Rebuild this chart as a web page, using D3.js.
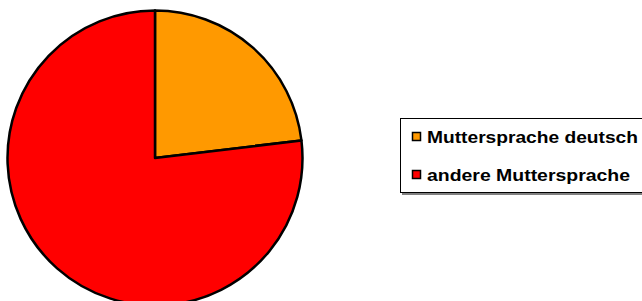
<!DOCTYPE html>
<html>
<head>
<meta charset="utf-8">
<script src="https://cdn.jsdelivr.net/npm/d3@7"></script>
<style>
  body { margin: 0; background: #fff; }
  svg { display: block; }
</style>
</head>
<body>
<div id="chart"></div>
<script>
// data (shares in percent)
const categories = ["Muttersprache deutsch", "andere Muttersprache"];
const values = [23.1, 76.9];
const colors = ["#ff9900", "#ff0000"];

const width = 642, height = 301;
const cx = 155, cy = 158, radius = 147.5;

const svg = d3.select("#chart")
  .append("svg")
  .attr("width", width)
  .attr("height", height);

const pie = d3.pie().sort(null).value(d => d);
const arc = d3.arc().innerRadius(0).outerRadius(radius);

const g = svg.append("g")
  .attr("transform", "translate(" + cx + "," + cy + ")");

g.selectAll("path")
  .data(pie(values))
  .join("path")
  .attr("d", arc)
  .attr("fill", (d, i) => colors[i])
  .attr("stroke", "#000")
  .attr("stroke-width", 2.5)
  .attr("stroke-linejoin", "round");

// legend
const legend = svg.append("g");
legend.append("rect")
  .attr("x", 402).attr("y", 120)
  .attr("width", 260).attr("height", 75)
  .attr("fill", "#808080");
legend.append("rect")
  .attr("x", 400.5).attr("y", 118.5)
  .attr("width", 260).attr("height", 74)
  .attr("fill", "#fff")
  .attr("stroke", "#000")
  .attr("stroke-width", 1);

const rowY = [143, 181];
const targetW = [211, 203];

const rows = legend.selectAll("g.row")
  .data(categories)
  .join("g")
  .attr("class", "row");

rows.append("rect")
  .attr("x", 412.5)
  .attr("y", (d, i) => rowY[i] - 10.5)
  .attr("width", 8)
  .attr("height", 8)
  .attr("fill", (d, i) => colors[i])
  .attr("stroke", "#000")
  .attr("stroke-width", 1.5);

rows.append("text")
  .attr("x", 427)
  .attr("y", (d, i) => rowY[i])
  .attr("font-family", "Liberation Sans, Arial, sans-serif")
  .attr("font-weight", "bold")
  .attr("font-size", 16.5)
  .attr("fill", "#000")
  .attr("textLength", (d, i) => targetW[i])
  .attr("lengthAdjust", "spacingAndGlyphs")
  .text(d => d);
</script>
</body>
</html>
